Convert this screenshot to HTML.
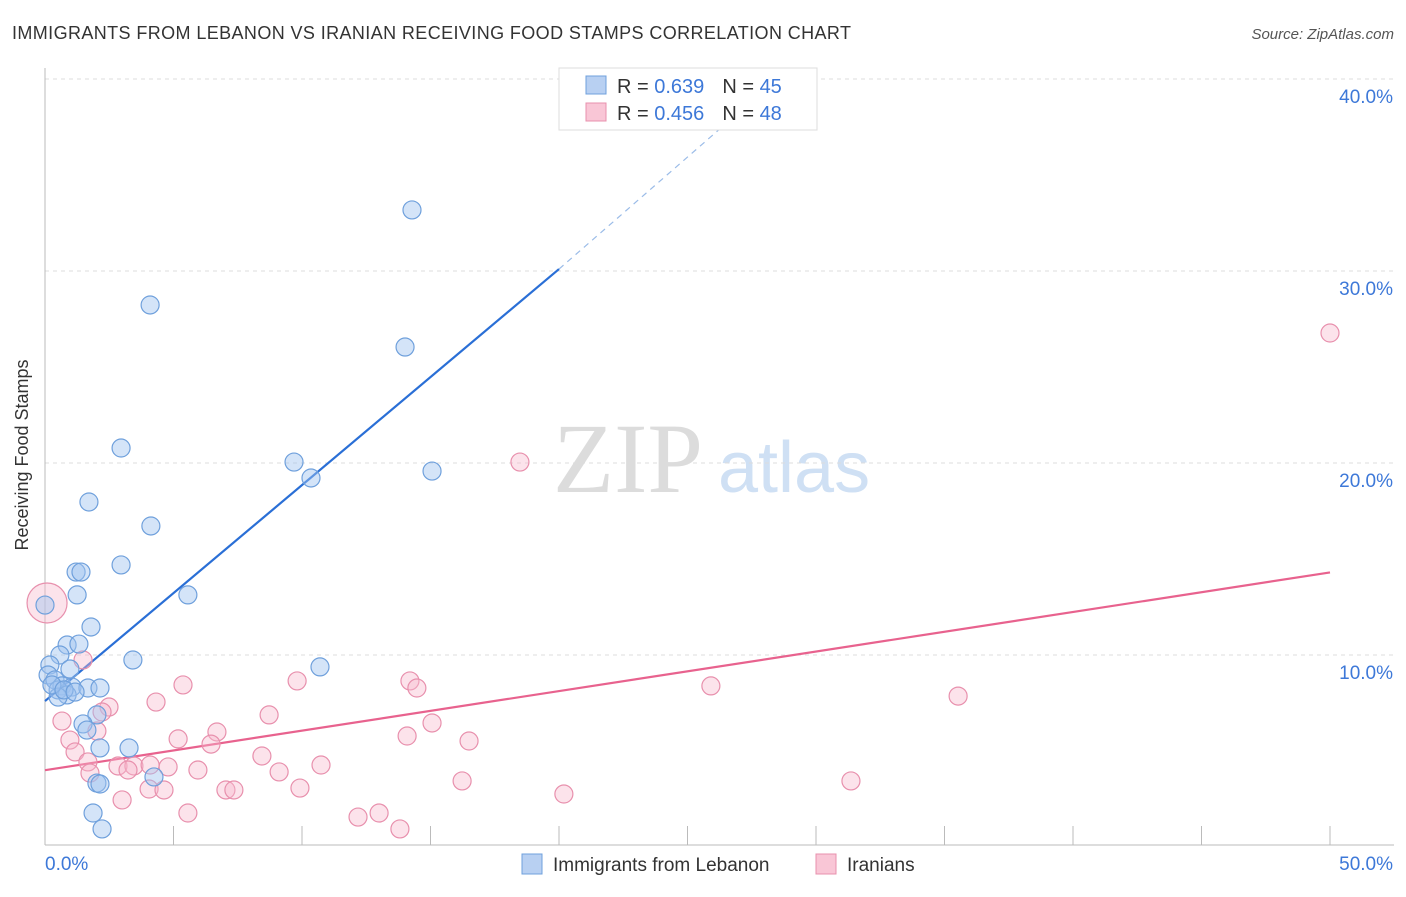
<!DOCTYPE html>
<html><head><meta charset="utf-8"><style>
body{margin:0;background:#fff;font-family:"Liberation Sans",sans-serif}
</style></head><body>
<svg width="1406" height="892" xmlns="http://www.w3.org/2000/svg" font-family="Liberation Sans, sans-serif">
<text x="12" y="39" font-size="18" fill="#333" textLength="839">IMMIGRANTS FROM LEBANON VS IRANIAN RECEIVING FOOD STAMPS CORRELATION CHART</text>
<text x="1394" y="39" font-size="15" fill="#555" font-style="italic" text-anchor="end">Source: ZipAtlas.com</text>
<g>
<text x="553" y="492" font-size="100" fill="#dcdcdc" style="font-family:'Liberation Serif',serif">ZIP</text>
<text x="718" y="492" font-size="72" fill="#cfe0f4">atlas</text>
</g>
<g id="grid"></g>
<line x1="45" y1="68" x2="45" y2="845" stroke="#bbb"/>
<line x1="45" y1="845" x2="1394" y2="845" stroke="#bbb"/>
<text x="28" y="455" font-size="18" fill="#333" transform="rotate(-90 28 455)" text-anchor="middle">Receiving Food Stamps</text>
<text x="45" y="870" font-size="19" fill="#3d78d8">0.0%</text>
<text x="1393" y="870" font-size="19" fill="#3d78d8" text-anchor="end">50.0%</text>
<g id="lines"></g>
<g id="pts"></g>
<g>
<rect x="559" y="68" width="258" height="62" fill="#fff" stroke="#ddd"/>
<rect x="586" y="76" width="20" height="18" fill="#b8d0f2" stroke="#6fa0dc"/>
<rect x="586" y="103" width="20" height="18" fill="#f9c6d6" stroke="#e890ad"/>
<text x="617" y="93" font-size="20" fill="#333">R = <tspan fill="#3d78d8">0.639</tspan><tspan dx="18">N = </tspan><tspan fill="#3d78d8">45</tspan></text>
<text x="617" y="120" font-size="20" fill="#333">R = <tspan fill="#3d78d8">0.456</tspan><tspan dx="18">N = </tspan><tspan fill="#3d78d8">48</tspan></text>
</g>
<g>
<rect x="522" y="854" width="20" height="20" fill="#b8d0f2" stroke="#6fa0dc"/>
<text x="553" y="871" font-size="19" fill="#333">Immigrants from Lebanon</text>
<rect x="816" y="854" width="20" height="20" fill="#f9c6d6" stroke="#e890ad"/>
<text x="847" y="871" font-size="19" fill="#333">Iranians</text>
</g>
</svg>
<script>
const yTicks=[10,20,30,40];
const xTicks=[0,5,10,15,20,25,30,35,40,45,50];
const blueX=[14.28,4.09,14.01,2.96,9.69,15.06,10.35,1.71,4.12,2.96,1.21,1.40,1.25,5.56,0,1.79,0.86,1.32,0.58,3.42,0.19,10.70,0.97,0.12,0.39,0.66,1.05,1.67,2.14,0.51,0.86,0.51,2.02,1.48,1.63,2.14,3.27,4.24,2.02,2.14,1.87,2.22,0.27,0.74,1.17];
const blueY=[33.18,28.23,26.04,20.78,20.05,19.58,19.22,17.97,16.72,14.69,14.32,14.32,13.13,13.13,12.6,11.46,10.52,10.57,10.0,9.74,9.48,9.38,9.27,8.96,8.70,8.39,8.33,8.28,8.28,8.18,7.92,7.81,6.88,6.41,6.09,5.16,5.16,3.65,3.33,3.28,1.77,0.94,8.44,8.18,8.07];
const pinkX=[50.0,18.48,0.08,1.48,5.37,9.81,14.20,14.47,25.91,35.53,4.32,2.49,2.22,8.72,0.66,15.06,6.69,2.02,5.18,6.46,14.09,16.50,0.97,1.17,1.67,8.44,2.84,3.46,4.09,4.79,3.23,5.95,9.11,10.74,16.23,31.36,4.05,4.63,7.04,7.35,9.92,20.19,3.00,5.56,13.00,12.18,13.81,1.75];
const pinkY=[26.77,20.05,12.71,9.74,8.44,8.65,8.65,8.28,8.39,7.86,7.55,7.29,7.03,6.88,6.56,6.46,5.99,6.04,5.63,5.36,5.78,5.52,5.57,4.95,4.43,4.74,4.22,4.22,4.27,4.17,4.01,4.01,3.91,4.27,3.44,3.44,3.02,2.97,2.97,2.97,3.07,2.76,2.45,1.77,1.77,1.56,0.94,3.85];
const blueTrend=[[0,7.6],[20,30.1]];
const blueDash=[[20,30.1],[27.8,39.2]];
const pinkTrend=[[0,4.0],[50,14.3]];
const sx=v=>45+v*25.7, sy=v=>847-v*19.2;
const NS='http://www.w3.org/2000/svg';
function mk(t,a,p){const e=document.createElementNS(NS,t);for(const k in a)e.setAttribute(k,a[k]);document.getElementById(p).appendChild(e);return e;}
yTicks.forEach(t=>{
 const l=mk('line',{x1:45,x2:1394,y1:sy(t),y2:sy(t),stroke:'#ddd','stroke-dasharray':'4,4'},'grid');
 
 
 const tx=mk('text',{x:1393,y:sy(t)+24,'font-size':19,fill:'#3d78d8','text-anchor':'end'},'grid');
 tx.textContent=t.toFixed(1)+'%';
 
 
});
xTicks.slice(1).forEach(t=>{
 const l=mk('line',{x1:sx(t),x2:sx(t),y1:826,y2:845,stroke:'#bbb'},'grid');
 
 
});
function pts(X,Y,fill,stroke,name){
 X.forEach((x,i)=>{
  const big=(name==='pink-point'&&i===2);
  const c=mk('circle',{cx:sx(x),cy:sy(Y[i]),r:big?20:9,fill:fill,stroke:stroke,'stroke-width':1.2},'pts');
  
  
 });
}
pts(pinkX,pinkY,'rgba(248,185,205,0.4)','#e890ad','pink-point');
pts(blueX,blueY,'rgba(160,195,240,0.45)','#6fa0dc','blue-point');
let l=mk('line',{x1:sx(blueTrend[0][0]),y1:sy(blueTrend[0][1]),x2:sx(blueTrend[1][0]),y2:sy(blueTrend[1][1]),stroke:'#2a6fd6','stroke-width':2.2},'lines');


l=mk('line',{x1:sx(blueDash[0][0]),y1:sy(blueDash[0][1]),x2:sx(blueDash[1][0]),y2:sy(blueDash[1][1]),stroke:'#9bbce8','stroke-width':1.2,'stroke-dasharray':'6,5'},'lines');


l=mk('line',{x1:sx(pinkTrend[0][0]),y1:sy(pinkTrend[0][1]),x2:sx(pinkTrend[1][0]),y2:sy(pinkTrend[1][1]),stroke:'#e8628e','stroke-width':2.2},'lines');


</script>
</body></html>
